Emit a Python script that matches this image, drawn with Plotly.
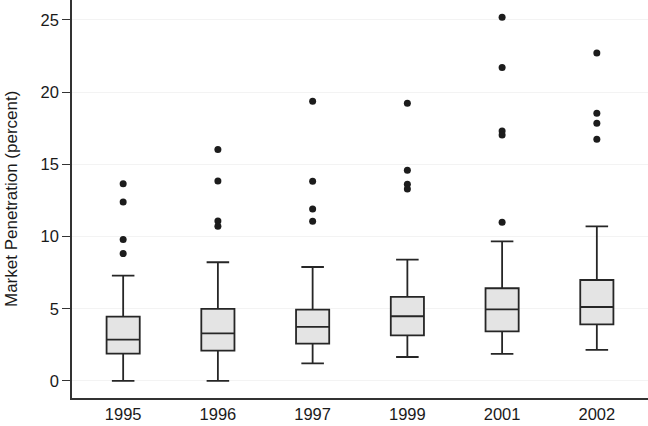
import plotly.graph_objects as go

years = ["1995", "1996", "1997", "1999", "2001", "2002"]
lower_whisker = [0.0, 0.0, 1.22, 1.66, 1.87, 2.15]
q1 = [1.89, 2.10, 2.58, 3.16, 3.44, 3.92]
median = [2.86, 3.30, 3.74, 4.48, 4.96, 5.12]
q3 = [4.45, 4.99, 4.94, 5.82, 6.42, 6.99]
upper_whisker = [7.29, 8.22, 7.89, 8.40, 9.67, 10.71]

outlier_years = ["1995"] * 4 + ["1996"] * 4 + ["1997"] * 4 + ["1999"] * 4 + ["2001"] * 5 + ["2002"] * 4
outlier_values = [13.66, 12.40, 9.79, 8.82,
                  16.02, 13.85, 11.08, 10.71,
                  19.37, 13.83, 11.91, 11.06,
                  19.23, 14.59, 13.62, 13.30,
                  25.19, 21.70, 17.31, 17.04, 10.99,
                  22.71, 18.54, 17.85, 16.74]

y_ticks = [0, 5, 10, 15, 20, 25]

fig = go.Figure()
fig.add_trace(go.Box(
    x=years, q1=q1, median=median, q3=q3,
    lowerfence=lower_whisker, upperfence=upper_whisker,
    fillcolor="#e4e4e4",
    line=dict(color="#262626", width=1.8),
    whiskerwidth=0.68,
    boxpoints=False,
    showlegend=False,
    hoverinfo="skip",
))
fig.add_trace(go.Scatter(
    x=outlier_years, y=outlier_values, mode="markers",
    marker=dict(color="#1c1c1c", size=7, line=dict(width=0)),
    showlegend=False,
))

fig.update_layout(
    width=648, height=426,
    margin=dict(l=72, r=0, t=0, b=28),
    plot_bgcolor="white", paper_bgcolor="white",
    boxgap=0.5,
    font=dict(family="Liberation Sans, Arial, sans-serif", color="#1a1a1a"),
    annotations=[dict(
        text="Market Penetration (percent)", textangle=-90,
        xref="paper", yref="paper", x=0, y=0.5,
        xanchor="center", yanchor="middle", xshift=-61, yshift=0,
        showarrow=False, font=dict(size=17, color="#1a1a1a"),
    )],
)
fig.update_xaxes(
    type="category", categoryorder="array", categoryarray=years,
    range=[-0.54, 5.54],
    showline=True, linecolor="#333333", linewidth=1.5,
    showgrid=False, ticks="", tickfont=dict(size=16.5), automargin=False,
    zeroline=False,
)
fig.update_yaxes(
    range=[-1.18, 26.38],
    tickvals=y_ticks, ticktext=[str(v) for v in y_ticks],
    showline=True, linecolor="#333333", linewidth=1.5,
    ticks="outside", ticklen=8, tickcolor="#333333", tickwidth=1.2,
    tickfont=dict(size=16.5),
    showgrid=True, gridcolor="#f3f3f3", gridwidth=1,
    zeroline=False, automargin=False,
)

fig.write_html("out.html", config={"displayModeBar": False},
               post_script="document.body.style.margin='0';")
